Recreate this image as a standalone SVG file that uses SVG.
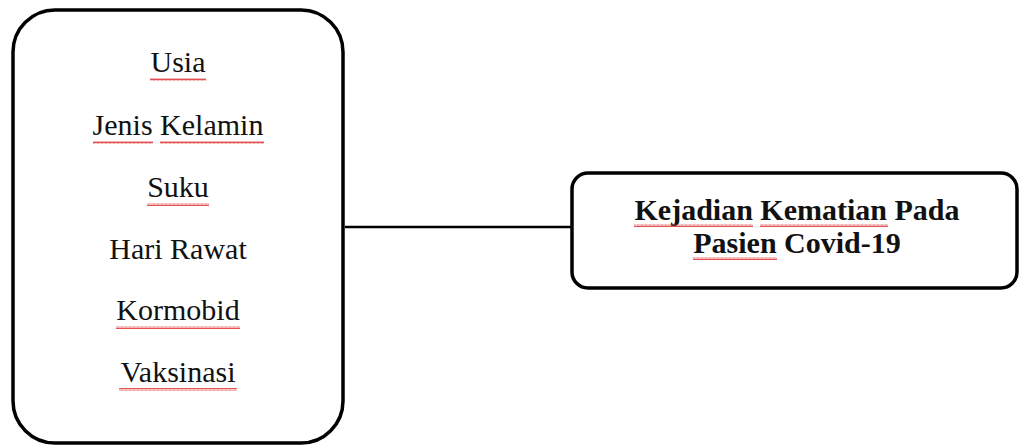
<svg xmlns="http://www.w3.org/2000/svg" width="1020" height="447" viewBox="0 0 1020 447">
<defs>
<style>
.box{fill:#fff;stroke:#000;stroke-width:3.5}
.t{font-family:'Liberation Serif','Times New Roman','DejaVu Serif',serif;font-size:30px;fill:#111;text-anchor:middle}
.b{font-weight:bold}
.conn{stroke:#000;stroke-width:2.5;fill:none}
</style>
<pattern id="wave" width="4" height="3" patternUnits="userSpaceOnUse">
<path d="M0,2.5 L1,0.5 L2,2.5 L3,0.5 L4,2.5" fill="none" stroke="#e04040" stroke-width="0.9"/>
</pattern>
</defs>
<rect width="1020" height="447" fill="#fff"/>
<g id="connectors">
<line class="conn" x1="345" y1="227" x2="572" y2="227"/>
</g>
<g id="factors">
<rect class="box" x="13" y="10" width="330" height="433" rx="42" ry="42"/>
<text class="t" x="178" y="72">Usia</text>
<rect x="150" y="78" width="56" height="3" fill="url(#wave)"/>
<text class="t" x="178" y="135">Jenis Kelamin</text>
<rect x="93" y="141" width="60" height="3" fill="url(#wave)"/>
<rect x="160" y="141" width="104" height="3" fill="url(#wave)"/>
<text class="t" x="178" y="197">Suku</text>
<rect x="147" y="203" width="62" height="3" fill="url(#wave)"/>
<text class="t" x="178" y="259">Hari Rawat</text>
<text class="t" x="178" y="320">Kormobid</text>
<rect x="116" y="326" width="124" height="3" fill="url(#wave)"/>
<text class="t" x="178" y="382">Vaksinasi</text>
<rect x="119" y="388" width="118" height="3" fill="url(#wave)"/>
</g>
<g id="outcome">
<rect class="box" x="572" y="173" width="445" height="115" rx="16" ry="16"/>
<text class="t b" x="797" y="220">Kejadian Kematian Pada</text>
<rect x="634" y="224" width="119" height="3" fill="url(#wave)"/>
<rect x="760" y="224" width="128" height="3" fill="url(#wave)"/>
<text class="t b" x="797" y="253">Pasien Covid-19</text>
<rect x="693" y="257" width="84" height="3" fill="url(#wave)"/>
</g>
</svg>
